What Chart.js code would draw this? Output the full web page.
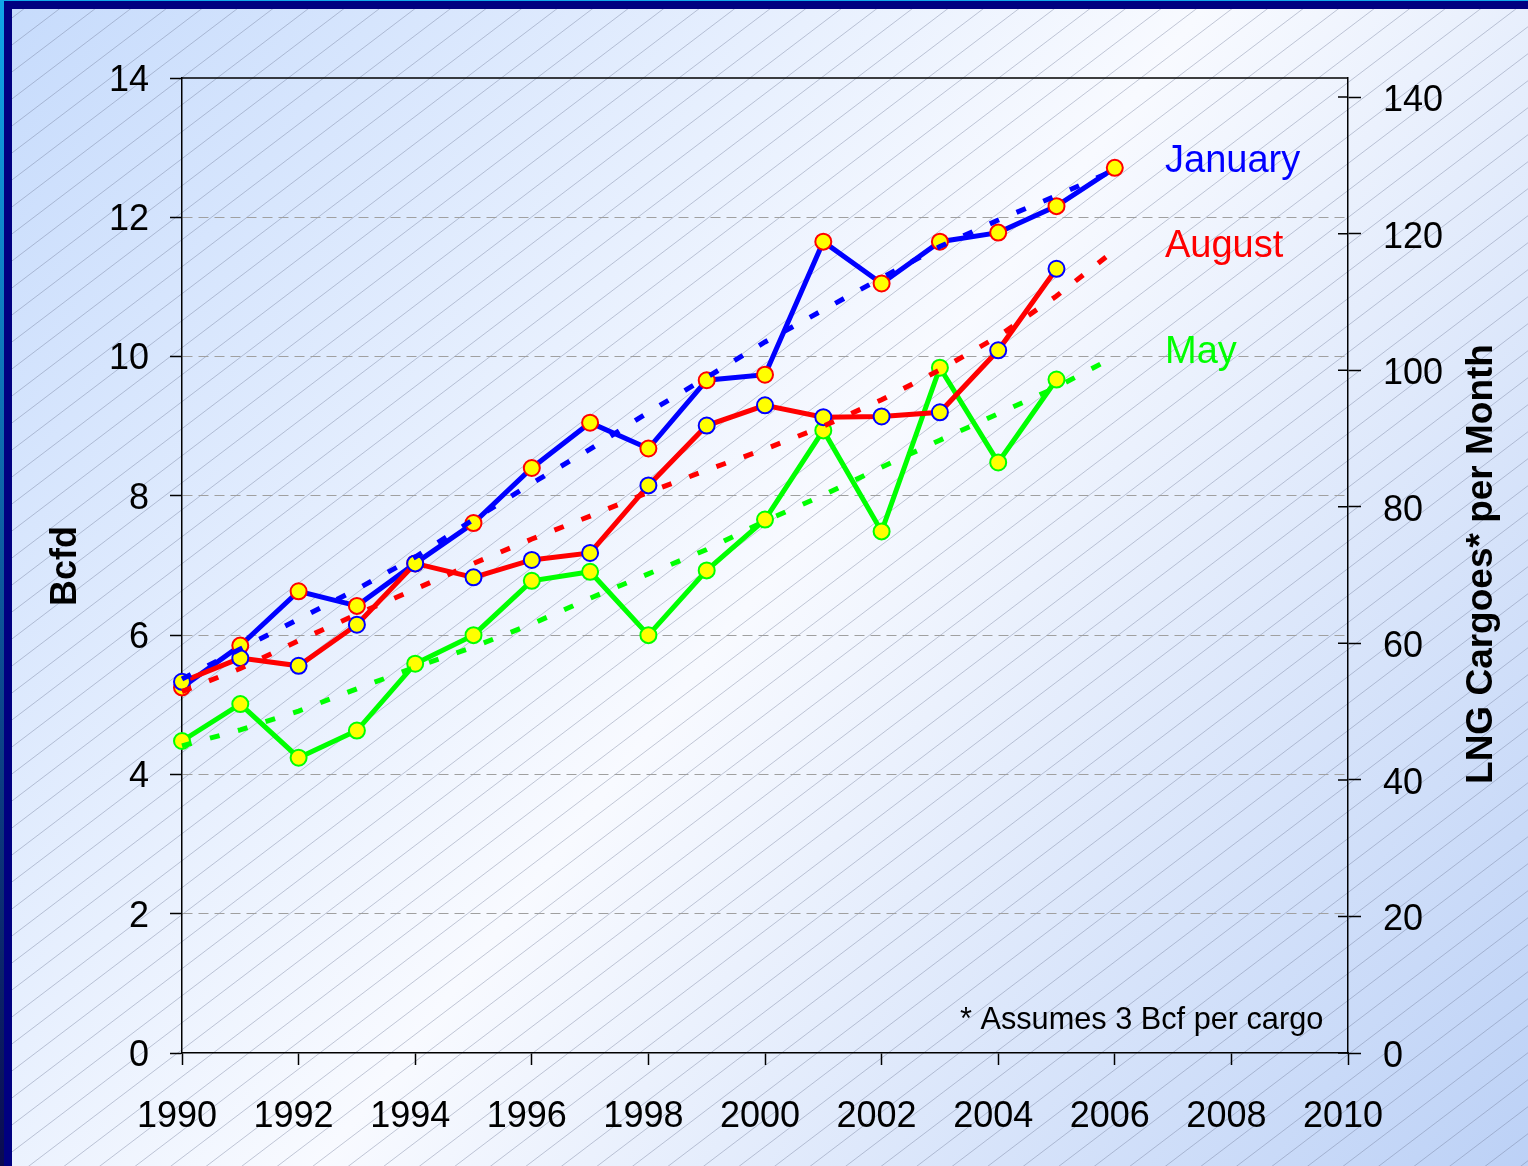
<!DOCTYPE html>
<html>
<head>
<meta charset="utf-8">
<title>LNG Cargoes per Month</title>
<script src="https://cdn.jsdelivr.net/npm/chart.js@4.4.1/dist/chart.umd.min.js"></script>
<style>
  html, body { margin: 0; padding: 0; background: #fff; }
  canvas { display: block; }
</style>
</head>
<body>
<canvas id="lngChart" width="1528" height="1166"></canvas>
<script>
// Data (Bcfd)
const years = [1990, 1991, 1992, 1993, 1994, 1995, 1996, 1997, 1998, 1999, 2000, 2001, 2002, 2003, 2004, 2005, 2006];
const january = [5.25, 5.85, 6.63, 6.42, 7.03, 7.61, 8.40, 9.05, 8.68, 9.66, 9.74, 11.65, 11.05, 11.65, 11.78, 12.16, 12.71];
const august = [5.33, 5.67, 5.56, 6.15, 7.03, 6.83, 7.08, 7.18, 8.15, 9.01, 9.30, 9.13, 9.14, 9.20, 10.09, 11.26];
const may = [4.48, 5.01, 4.24, 4.63, 5.59, 6.00, 6.78, 6.91, 6.00, 6.93, 7.66, 8.94, 7.49, 9.84, 8.48, 9.67];

// Dotted trend lines, read at each year
const januaryTrend = [5.37, 5.80, 6.23, 6.66, 7.12, 7.66, 8.18, 8.67, 9.20, 9.70, 10.21, 10.67, 11.13, 11.58, 11.96, 12.31, 12.68];
const augustTrend = [5.19, 5.52, 5.92, 6.30, 6.66, 7.03, 7.38, 7.71, 8.05, 8.37, 8.67, 9.00, 9.38, 9.81, 10.29, 10.87, 11.53];
const mayTrend = [4.41, 4.64, 4.91, 5.23, 5.54, 5.83, 6.16, 6.53, 6.88, 7.23, 7.64, 8.01, 8.41, 8.80, 9.18, 9.56, 10.00];

// Axis settings
const bcfdMax = 14;
const bcfdStep = 2;
const cargoMax = 142.8;   // 14 Bcfd at 3 Bcf per cargo
const cargoStep = 20;
const yearMin = 1990;
const yearMax = 2010;
const yearStep = 2;

const BLUE = '#0000FF';
const RED = '#FF0000';
const GREEN = '#00FF00';
const MARKER = '#FFFF00';
const FONT = '"Liberation Sans", Arial, Helvetica, sans-serif';

function toPoints(values) {
    return values.map((v, i) => ({ x: years[i], y: v }));
}

function monthSeries(label, values, lineColor, edgeColor, order) {
    return {
        label: label,
        data: toPoints(values),
        borderColor: lineColor,
        borderWidth: 5,
        pointRadius: 8,
        pointHoverRadius: 8,
        pointBackgroundColor: MARKER,
        pointBorderColor: edgeColor,
        pointBorderWidth: 2,
        tension: 0,
        fill: false,
        clip: false,
        order: order
    };
}

function trendSeries(label, values, color) {
    return {
        label: label,
        data: toPoints(values),
        borderColor: color,
        borderWidth: 5,
        borderDash: [10, 19],
        borderCapStyle: 'butt',
        pointRadius: 0,
        tension: 0,
        fill: false,
        clip: false,
        order: 0
    };
}

const backdropPlugin = {
    id: 'backdrop',
    beforeDraw(chart) {
        const ctx = chart.ctx;
        const w = chart.width, h = chart.height;
        ctx.save();
        const grad = ctx.createLinearGradient(0, 0, w, h);
        grad.addColorStop(0, '#c6dbfc');
        grad.addColorStop(0.5, '#f8faff');
        grad.addColorStop(1, '#bcd1f6');
        ctx.fillStyle = grad;
        ctx.fillRect(0, 0, w, h);

        // diagonal hatching
        ctx.strokeStyle = 'rgba(110, 120, 150, 0.4)';
        ctx.lineWidth = 1;
        ctx.beginPath();
        const slope = 0.76;
        for (let c = 0; c < h + w * slope; c += 27) {
            ctx.moveTo(0, c);
            ctx.lineTo(w, c - w * slope);
        }
        ctx.stroke();

        // slide frame
        ctx.fillStyle = '#000080';
        ctx.fillRect(0, 0, w, 9);
        ctx.fillRect(0, 0, 12, h);
        const edge = ctx.createLinearGradient(0, 0, 0, h);
        edge.addColorStop(0, '#10a8e8');
        edge.addColorStop(1, '#0a0a50');
        ctx.fillStyle = edge;
        ctx.fillRect(0, 0, 4, h);
        ctx.fillStyle = '#10a8e8';
        ctx.fillRect(0, 0, w, 1);
        ctx.restore();
    },
    afterDraw(chart) {
        const { ctx, chartArea: area, scales } = chart;
        ctx.save();

        // top of plot box and inner half of the right-axis ticks
        ctx.strokeStyle = '#000';
        ctx.lineWidth = 1.5;
        ctx.beginPath();
        ctx.moveTo(area.left, area.top);
        ctx.lineTo(area.right, area.top);
        scales.y2.ticks.forEach(t => {
            const py = scales.y2.getPixelForValue(t.value);
            ctx.moveTo(area.right - 10, py);
            ctx.lineTo(area.right, py);
        });
        ctx.stroke();

        // axis titles
        ctx.fillStyle = '#000';
        ctx.textAlign = 'center';
        ctx.textBaseline = 'middle';
        ctx.font = `bold 36px ${FONT}`;
        ctx.save();
        ctx.translate(66, 566);
        ctx.rotate(-Math.PI / 2);
        ctx.fillText('Bcfd', 0, 0);
        ctx.restore();
        ctx.font = `bold 37px ${FONT}`;
        ctx.save();
        ctx.translate(1482, 564);
        ctx.rotate(-Math.PI / 2);
        ctx.fillText('LNG Cargoes* per Month', 0, 0);
        ctx.restore();

        // series names
        ctx.textAlign = 'left';
        ctx.textBaseline = 'alphabetic';
        ctx.font = `38px ${FONT}`;
        ctx.fillStyle = BLUE;
        ctx.fillText('January', 1165, 172);
        ctx.fillStyle = RED;
        ctx.fillText('August', 1165, 257);
        ctx.fillStyle = GREEN;
        ctx.fillText('May', 1165, 363);

        // footnote
        ctx.fillStyle = '#000';
        ctx.font = `30.7px ${FONT}`;
        ctx.fillText('* Assumes 3 Bcf per cargo', 960, 1029);
        ctx.restore();
    }
};

const tickFont = { family: FONT, size: 36 };

const lngChart = new Chart(document.getElementById('lngChart'), {
    type: 'line',
    data: {
        datasets: [
            trendSeries('January trend', januaryTrend, BLUE),
            trendSeries('August trend', augustTrend, RED),
            trendSeries('May trend', mayTrend, GREEN),
            monthSeries('August', august, RED, BLUE, 1),
            monthSeries('January', january, BLUE, RED, 2),
            monthSeries('May', may, GREEN, GREEN, 3)
        ]
    },
    options: {
        responsive: false,
        animation: false,
        devicePixelRatio: 1,
        layout: { padding: { top: 78, left: 0, right: 0, bottom: 0 } },
        plugins: {
            legend: { display: false },
            tooltip: { enabled: false }
        },
        scales: {
            x: {
                type: 'linear',
                min: yearMin,
                max: yearMax,
                ticks: {
                    stepSize: yearStep,
                    callback: v => String(v),
                    font: tickFont,
                    color: '#000',
                    padding: 30,
                    labelOffset: -5,
                    maxRotation: 0,
                    autoSkip: false
                },
                grid: { drawOnChartArea: false, tickLength: 12, tickColor: '#000', tickWidth: 1.5 },
                border: { color: '#000', width: 1.5 },
                afterFit: s => { s.height = 113; }
            },
            y: {
                position: 'left',
                min: 0,
                max: bcfdMax,
                ticks: { stepSize: bcfdStep, font: tickFont, color: '#000', padding: 21, labelOffset: 3 },
                grid: {
                    color: c => (c.tick && (c.tick.value === 0 || c.tick.value === bcfdMax)) ? 'rgba(0,0,0,0)' : '#a0a0a0',
                    lineWidth: 1,
                    tickLength: 12,
                    tickColor: '#000',
                    tickWidth: 1.5,
                    tickBorderDash: []
                },
                border: { color: '#000', width: 1.5, dash: [10, 6] },
                afterFit: s => { s.width = 182; }
            },
            y2: {
                position: 'right',
                min: 0,
                max: cargoMax,
                ticks: { stepSize: cargoStep, includeBounds: false, font: tickFont, color: '#000', padding: 22, labelOffset: 4 },
                grid: { drawOnChartArea: false, tickLength: 13, tickColor: '#000', tickWidth: 1.5 },
                border: { color: '#000', width: 1.5 },
                afterFit: s => { s.width = 180; }
            }
        }
    },
    plugins: [backdropPlugin]
});
</script>
</body>
</html>
